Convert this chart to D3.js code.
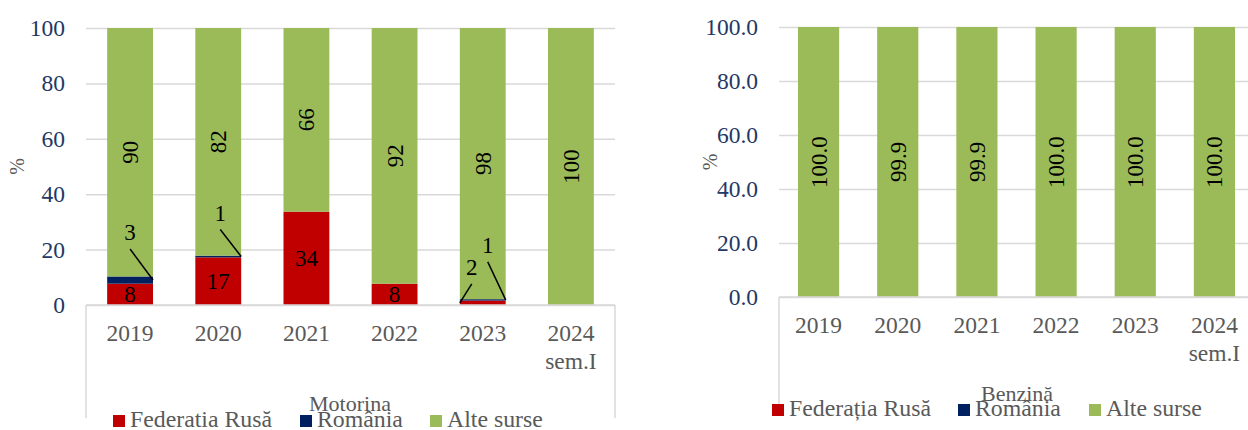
<!DOCTYPE html>
<html>
<head>
<meta charset="utf-8">
<script src="https://cdn.jsdelivr.net/npm/d3@7"></script>
<style>
  body { margin: 0; background: #fff; }
  svg text { font-family: "Liberation Serif", "Times New Roman", "DejaVu Serif", serif; }
</style>
</head>
<body>
<svg id="chart" width="1248" height="430"></svg>
<script>
// categories
const years = ['2019', '2020', '2021', '2022', '2023', '2024']
const yearSub = ['', '', '', '', '', 'sem.I']

// Motorina (%)
const motRusia = [7.7, 17.2, 33.7, 7.7, 1.6, 0]
const motRomania = [2.6, 0.6, 0, 0, 0.5, 0]
const motAlte = [89.7, 82.2, 66.3, 92.3, 97.9, 100]

// Benzina (%)
const benRusia = [0, 0.1, 0.1, 0, 0, 0]
const benRomania = [0, 0, 0, 0, 0, 0]
const benAlte = [100.0, 99.9, 99.9, 100.0, 100.0, 100.0]

const yTicks = [0, 20, 40, 60, 80, 100]
const seriesNames = ['Federatia Rusă', 'România', 'Alte surse']
const seriesNamesBen = ['Federația Rusă', 'România', 'Alte surse']

const colors = ['#C00000', '#002060', '#9BBB59']
const gridColor = '#D9D9D9'
const greyText = '#595959'
const navyText = '#1F3864'
const serif = '"Liberation Serif", "Times New Roman", serif'

// small segments get their label outside, with a leader line
// dx/dy: text centre relative to bar centre / segment middle, side: bar edge where the line ends
const leaders = {
  'mot-0-1': { dx: 0, dy: -48, side: 'right' },
  'mot-1-1': { dx: 2, dy: -44, side: 'right' },
  'mot-4-0': { dx: -11, dy: -36, side: 'left' },
  'mot-4-1': { dx: 5, dy: -55, side: 'right' }
}

const svg = d3.select('#chart')

function drawChart(cfg) {
  const g = svg.append('g')
  const x = d3.scaleBand().domain(years).range([cfg.left, cfg.right]).paddingInner(0.48).paddingOuter(0.24)
  const y = d3.scaleLinear().domain([0, 100]).range([cfg.bottom, cfg.top])

  // gridlines + tick labels
  const yAxis = d3.axisLeft(y).tickValues(yTicks).tickSize(-(cfg.right - cfg.left))
    .tickPadding(21).tickFormat(d3.format(cfg.fmt))
  const ya = g.append('g').attr('transform', `translate(${cfg.left},0)`).call(yAxis)
    .attr('font-family', null).attr('font-size', null)
  ya.select('.domain').remove()
  ya.selectAll('.tick line').attr('stroke', gridColor).attr('stroke-width', 1.5)
  ya.selectAll('.tick text').attr('fill', navyText).style('font-size', '23.5px')
    .style('font-family', serif)

  // y axis title
  g.append('text')
    .attr('transform', `translate(${cfg.left - 62},${(cfg.top + cfg.bottom) / 2}) rotate(-90)`)
    .attr('text-anchor', 'middle').attr('fill', greyText).style('font-size', '20px')
    .text('%')

  // stacked bars
  const rows = years.map((yr, i) => ({ year: yr, v: cfg.series.map(s => s[i]) }))
  rows.forEach((row, i) => {
    let acc = 0
    row.v.forEach((val, s) => {
      const y0 = acc, y1 = acc + val
      acc = y1
      if (val <= 0) return
      g.append('rect')
        .attr('x', x(row.year)).attr('width', x.bandwidth())
        .attr('y', y(y1)).attr('height', y(y0) - y(y1))
        .attr('fill', colors[s])
    })
  })

  // data labels
  rows.forEach((row, i) => {
    let acc = 0
    row.v.forEach((val, s) => {
      const y0 = acc, y1 = acc + val
      acc = y1
      if (!cfg.labelSeries.includes(s) || val < 0.5) return
      const label = d3.format(cfg.labelFmt)(val)
      const cx = x(row.year) + x.bandwidth() / 2
      const cy = y((y0 + y1) / 2)
      const L = leaders[`${cfg.id}-${i}-${s}`]
      if (L) {
        const ex = L.side === 'left' ? x(row.year) : x(row.year) + x.bandwidth()
        g.append('line')
          .attr('x1', cx + L.dx).attr('y1', cy + L.dy + 17)
          .attr('x2', ex).attr('y2', cy)
          .attr('stroke', '#000').attr('stroke-width', 1.5)
        g.append('text')
          .attr('x', cx + L.dx).attr('y', cy + L.dy)
          .attr('dy', '0.35em').attr('text-anchor', 'middle')
          .style('font-size', '23px').attr('fill', '#000').text(label)
      } else if (s === 2) {
        g.append('text')
          .attr('transform', `translate(${cx},${cy}) rotate(-90)`)
          .attr('dy', '0.35em').attr('text-anchor', 'middle')
          .style('font-size', '23px').attr('fill', '#000').text(label)
      } else {
        g.append('text')
          .attr('x', cx).attr('y', cy)
          .attr('dy', '0.35em').attr('text-anchor', 'middle')
          .style('font-size', '23px').attr('fill', '#000').text(label)
      }
    })
  })

  // category box
  g.append('line').attr('x1', cfg.left).attr('x2', cfg.right).attr('y1', cfg.bottom).attr('y2', cfg.bottom)
    .attr('stroke', gridColor).attr('stroke-width', 1.5)
  g.append('line').attr('x1', cfg.left).attr('x2', cfg.left).attr('y1', cfg.bottom).attr('y2', cfg.boxBottom)
    .attr('stroke', gridColor).attr('stroke-width', 1.5)
  g.append('line').attr('x1', cfg.right).attr('x2', cfg.right).attr('y1', cfg.bottom).attr('y2', cfg.boxBottom)
    .attr('stroke', gridColor).attr('stroke-width', 1.5)

  // category labels
  years.forEach((yr, i) => {
    const cx = x(yr) + x.bandwidth() / 2
    g.append('text').attr('x', cx).attr('y', cfg.bottom + 36)
      .attr('text-anchor', 'middle').attr('fill', greyText).style('font-size', '23.5px').text(yr)
    if (yearSub[i]) {
      g.append('text').attr('x', cx).attr('y', cfg.bottom + 64)
        .attr('text-anchor', 'middle').attr('fill', greyText).style('font-size', '23.5px').text(yearSub[i])
    }
  })

  // title
  g.append('text').attr('x', cfg.titleX).attr('y', cfg.titleY)
    .attr('text-anchor', 'middle').attr('fill', greyText).style('font-size', '22px').text(cfg.title)

  // legend
  cfg.names.forEach((name, s) => {
    const lx = cfg.legendX[s]
    g.append('rect').attr('x', lx).attr('y', cfg.legendY - 12).attr('width', 12).attr('height', 12)
      .attr('fill', colors[s])
    g.append('text').attr('x', lx + 17).attr('y', cfg.legendY)
      .attr('fill', greyText).style('font-size', '23.8px').text(name)
  })
}

drawChart({
  id: 'mot', left: 86, right: 615, top: 28, bottom: 305, boxBottom: 418,
  fmt: 'd', labelFmt: '.0f', labelSeries: [0, 1, 2],
  series: [motRusia, motRomania, motAlte],
  title: 'Motorina', titleX: 350, titleY: 411,
  names: seriesNames, legendX: [113, 300, 430], legendY: 427
})

drawChart({
  id: 'ben', left: 779, right: 1254, top: 27, bottom: 297, boxBottom: 410,
  fmt: '.1f', labelFmt: '.1f', labelSeries: [2],
  series: [benRusia, benRomania, benAlte],
  title: 'Benzină', titleX: 1017, titleY: 401,
  names: seriesNamesBen, legendX: [772, 958, 1089], legendY: 416
})
</script>
</body>
</html>
